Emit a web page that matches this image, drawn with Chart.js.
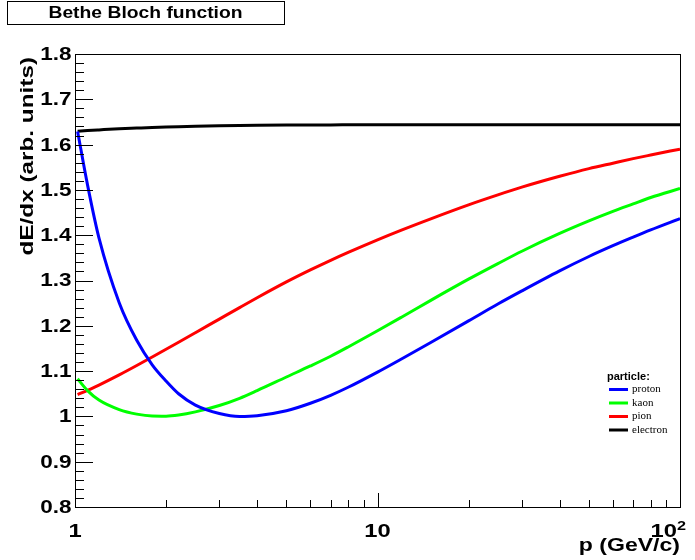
<!DOCTYPE html>
<html>
<head>
<meta charset="utf-8">
<title>Bethe Bloch function</title>
<script src="https://cdn.jsdelivr.net/npm/chart.js@4.4.1/dist/chart.umd.min.js"></script>
<style>
  html, body { margin: 0; padding: 0; background: #fff; }
  canvas { display: block; }
</style>
</head>
<body>
<canvas id="bb" width="695" height="560"></canvas>
<script>
// momentum points (GeV/c) and dE/dx for each particle
const momenta = [1.02, 1.1, 1.2, 1.4, 1.6, 1.8, 2, 2.2, 2.5, 3, 3.5, 4, 5, 6, 7, 8, 10, 12, 15, 20, 25, 30, 40, 50, 60, 70, 80, 100];
const proton = [1.629, 1.511, 1.394, 1.251, 1.168, 1.114, 1.078, 1.05, 1.025, 1.0065, 1.0, 1.0015, 1.0124, 1.029, 1.0466, 1.0643, 1.0978, 1.1268, 1.1632, 1.2108, 1.248, 1.277, 1.3212, 1.353, 1.3768, 1.3957, 1.4116, 1.4366];
const kaon = [1.083, 1.057, 1.036, 1.015, 1.005, 1.0008, 1.0005, 1.003, 1.01, 1.024, 1.04, 1.057, 1.087, 1.1113, 1.1328, 1.1533, 1.189, 1.219, 1.2562, 1.3029, 1.3373, 1.3646, 1.4038, 1.4315, 1.4525, 1.469, 1.4832, 1.503];
const pion = [1.048, 1.0576, 1.0692, 1.0916, 1.1123, 1.1312, 1.1482, 1.1637, 1.1847, 1.2148, 1.2402, 1.2619, 1.2968, 1.3233, 1.3445, 1.362, 1.3898, 1.4113, 1.4362, 1.467, 1.489, 1.506, 1.53, 1.547, 1.559, 1.569, 1.577, 1.59];
const electron = [1.6295, 1.631, 1.6325, 1.635, 1.6365, 1.6378, 1.6388, 1.6396, 1.6405, 1.6415, 1.6421, 1.6425, 1.643, 1.6433, 1.6435, 1.6436, 1.6437, 1.6438, 1.6438, 1.6438, 1.6438, 1.6438, 1.6438, 1.6438, 1.6438, 1.6438, 1.6438, 1.6438];

const particles = ['proton', 'kaon', 'pion', 'electron'];
const colors = ['#0000ff', '#00ff00', '#ff0000', '#000000'];

// axis ticks
const yTicks = [0.8, 0.9, 1.0, 1.1, 1.2, 1.3, 1.4, 1.5, 1.6, 1.7, 1.8];
const yTickLabels = ['0.8', '0.9', '1', '1.1', '1.2', '1.3', '1.4', '1.5', '1.6', '1.7', '1.8'];
const xTicks = [1, 10, 100];
const xTickLabels = ['1', '10', '10'];   // last one gets a superscript 2

const SANS = '"Liberation Sans", Arial, Helvetica, sans-serif';
const SERIF = '"Liberation Serif", "Times New Roman", serif';

// stretched text helper (the axis fonts are drawn wider than normal)
function wideText(ctx, text, x, y, font, align, sx, angle) {
  ctx.save();
  ctx.translate(x, y);
  if (angle) ctx.rotate(angle);
  ctx.scale(sx, 1);
  ctx.font = font;
  ctx.textAlign = align;
  ctx.fillText(text, 0, 0);
  ctx.restore();
}

// frame, ticks, labels, title box and legend
const decorations = {
  id: 'decorations',
  afterDraw(chart) {
    const ctx = chart.ctx;
    const a = chart.chartArea;
    const xs = chart.scales.x, ys = chart.scales.y;
    ctx.save();
    ctx.fillStyle = '#000';
    ctx.strokeStyle = '#000';
    ctx.lineWidth = 1;

    // frame
    ctx.strokeRect(Math.round(a.left) + 0.5, Math.round(a.top) + 0.5,
                   Math.round(a.right - a.left), Math.round(a.bottom - a.top));

    // y ticks (inside, major every 0.1, minor every 0.02)
    ctx.beginPath();
    for (let i = 0; i <= 50; i++) {
      const v = 0.8 + i * 0.02;
      const y = Math.round(ys.getPixelForValue(v)) + 0.5;
      const len = i % 5 === 0 ? 18 : 9;
      ctx.moveTo(a.left, y);
      ctx.lineTo(a.left + len, y);
    }
    // x ticks, log decades
    for (let d = 1; d <= 10; d *= 10) {
      for (let k = 1; k <= 9; k++) {
        const v = d * k;
        const x = Math.round(xs.getPixelForValue(v)) + 0.5;
        const len = k === 1 ? 14 : 7;
        ctx.moveTo(x, a.bottom);
        ctx.lineTo(x, a.bottom - len);
      }
    }
    ctx.stroke();

    // y tick labels
    ctx.textBaseline = 'middle';
    yTicks.forEach((v, i) => {
      wideText(ctx, yTickLabels[i], 71.5, ys.getPixelForValue(v) + 1, 'bold 18px ' + SANS, 'right', 1.25);
    });

    // x tick labels
    ctx.textBaseline = 'alphabetic';
    xTicks.forEach((v, i) => {
      const x = xs.getPixelForValue(v);
      if (v === 100) {
        wideText(ctx, xTickLabels[i], x - 3, 537, 'bold 19px ' + SANS, 'right', 1.25);
        wideText(ctx, '2', x - 3, 530, 'bold 13px ' + SANS, 'left', 1.25);
      } else {
        wideText(ctx, xTickLabels[i], x, 537, 'bold 19px ' + SANS, 'center', 1.25);
      }
    });

    // axis titles
    wideText(ctx, 'p (GeV/c)', a.right, 551, 'bold 18px ' + SANS, 'right', 1.28);
    wideText(ctx, 'dE/dx (arb. units)', 33, a.top + 3, 'bold 18px ' + SANS, 'right', 1.35, -Math.PI / 2);

    // title box
    ctx.strokeRect(7.5, 1.5, 277, 23);
    wideText(ctx, 'Bethe Bloch function', 145.5, 17.5, 'bold 16.5px ' + SANS, 'center', 1.17);

    // legend
    ctx.font = 'bold 11px ' + SANS;
    ctx.textAlign = 'left';
    ctx.fillText('particle:', 607, 380);
    const rowY = [389.5, 403, 416.5, 430];
    ctx.font = '11px ' + SERIF;
    ctx.textBaseline = 'middle';
    particles.forEach((name, i) => {
      ctx.strokeStyle = colors[i];
      ctx.lineWidth = 3;
      ctx.beginPath();
      ctx.moveTo(609, rowY[i]);
      ctx.lineTo(628, rowY[i]);
      ctx.stroke();
      ctx.fillStyle = '#000';
      ctx.fillText(name, 632, rowY[i]);
    });
    ctx.restore();
  }
};

const series = [proton, kaon, pion, electron];

new Chart(document.getElementById('bb').getContext('2d'), {
  type: 'line',
  data: {
    datasets: series.map((vals, i) => ({
      label: particles[i],
      data: momenta.map((p, j) => ({ x: p, y: vals[j] })),
      borderColor: colors[i],
      borderWidth: 3,
      pointRadius: 0,
      fill: false,
      cubicInterpolationMode: 'monotone'
    }))
  },
  options: {
    responsive: false,
    animation: false,
    layout: { padding: { top: 54, right: 15, left: 0, bottom: 0 } },
    plugins: {
      legend: { display: false },
      title: { display: false },
      tooltip: { enabled: false }
    },
    scales: {
      x: {
        type: 'logarithmic',
        min: 1,
        max: 100,
        ticks: { display: false },
        grid: { display: false },
        border: { display: false },
        afterFit: s => { s.height = 53; }
      },
      y: {
        min: 0.8,
        max: 1.8,
        ticks: { display: false },
        grid: { display: false },
        border: { display: false },
        afterFit: s => { s.width = 75; }
      }
    }
  },
  plugins: [decorations]
});
</script>
</body>
</html>
